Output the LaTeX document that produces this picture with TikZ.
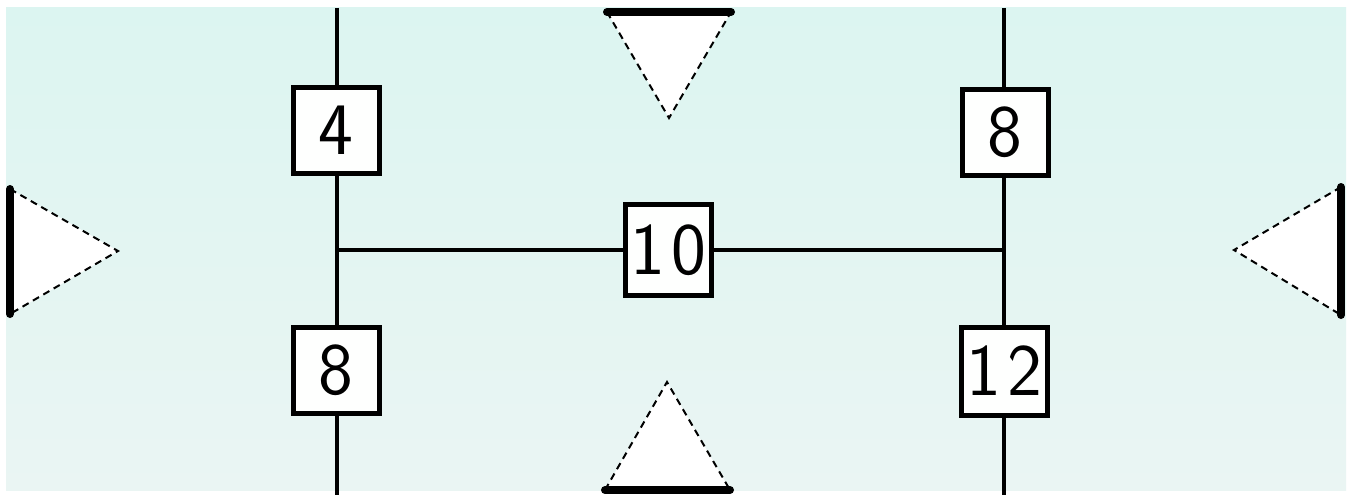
\documentclass[tikz,border=0pt]{standalone}
\usepackage{fontspec}
\definecolor{bgtop}{RGB}{220,245,241}
\definecolor{bgbot}{RGB}{234,245,243}
\begin{document}
\begin{tikzpicture}[x=1pt,y=-1pt,
  wire/.style={line width=3.5pt},
  numbox/.style={draw,line width=5pt,fill=white!96!bgtop,minimum width=86pt,minimum height=86pt,inner sep=0pt,
     font=\sffamily\fontsize{74}{74}\selectfont},
  tri/.style={draw=black,line width=2pt,dash pattern=on 7pt off 5pt},
  bar/.style={line width=8pt,line cap=round}]
\useasboundingbox (0,0) rectangle (1352,495);
\fill[white] (0,0) rectangle (1352,495);
\shade[top color=bgtop,bottom color=bgbot] (6,8) rectangle (1346,490);
% coordinates
\coordinate (LT) at (337,8);
\coordinate (LB) at (337,495);
\coordinate (LJ) at (337,250);
\coordinate (RT) at (1004,8);
\coordinate (RB) at (1004,495);
\coordinate (RJ) at (1004,250);
% wires
\draw[wire] (LT) -- (LB);
\draw[wire] (RT) -- (RB);
\draw[wire] (LJ) -- (RJ);
% boxes
\node[numbox] (b4) at (336,130) {4};
\node[numbox] (b8l) at (336,370) {8};
\node[numbox,minimum height=91pt] (b10) at (668,250) {1\kern6pt0};
\node[numbox] (b8r) at (1005,132) {8};
\node[numbox,minimum height=88pt] (b12) at (1004,371) {1\kern6pt2};
% triangles
\coordinate (tA) at (607,12); \coordinate (tB) at (731,12); \coordinate (tC) at (669,118);
\fill[white] (tA) -- (tC) -- (tB) -- cycle;
\draw[tri] (tA) -- (tC) -- (tB);
\draw[bar] (tA) -- (tB);
\coordinate (bA) at (605,490); \coordinate (bB) at (730,490); \coordinate (bC) at (667,382);
\fill[white] (bA) -- (bC) -- (bB) -- cycle;
\draw[tri] (bA) -- (bC) -- (bB);
\draw[bar] (bA) -- (bB);
\coordinate (lA) at (10,189); \coordinate (lB) at (10,314); \coordinate (lC) at (118,251);
\fill[white] (lA) -- (lC) -- (lB) -- cycle;
\draw[tri] (lA) -- (lC) -- (lB);
\draw[bar] (lA) -- (lB);
\coordinate (rA) at (1341,187); \coordinate (rB) at (1341,315); \coordinate (rC) at (1234,250);
\fill[white] (rA) -- (rC) -- (rB) -- cycle;
\draw[tri] (rA) -- (rC) -- (rB);
\draw[bar] (rA) -- (rB);
\end{tikzpicture}
\end{document}
